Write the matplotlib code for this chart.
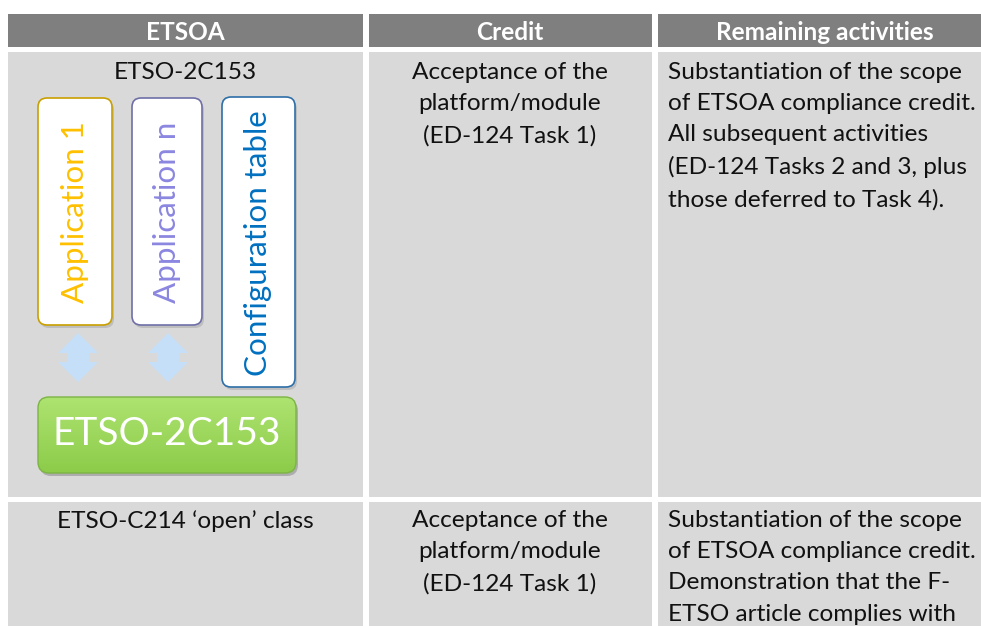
import matplotlib
matplotlib.use("Agg")
import numpy as np
import matplotlib.pyplot as plt
from matplotlib.patches import Rectangle, FancyBboxPatch, Polygon

plt.rcParams['font.family'] = ['Lato', 'DejaVu Sans']

# ---- table content ----
headers = ["ETSOA", "Credit", "Remaining activities"]
row1 = ["ETSO-2C153",
        "Acceptance of the\nplatform/module\n(ED-124 Task 1)",
        "Substantiation of the scope\nof ETSOA compliance credit.\nAll subsequent activities\n(ED-124 Tasks 2 and 3, plus\nthose deferred to Task 4)."]
row2 = ["ETSO-C214 \u2018open\u2019 class",
        "Acceptance of the\nplatform/module\n(ED-124 Task 1)",
        "Substantiation of the scope\nof ETSOA compliance credit.\nDemonstration that the F-\nETSO article complies with"]
diagram_apps = ["Application 1", "Application n", "Configuration table"]
diagram_base = "ETSO-2C153"

W, H = 981, 626
fig = plt.figure(figsize=(W / 100, H / 100), dpi=100)
ax = fig.add_axes([0, 0, 1, 1])
ax.set_xlim(0, W)
ax.set_ylim(H, 0)
ax.axis('off')

col_x = [(8, 363), (369, 652), (658, 981)]
row_y = [(14, 47), (52, 497), (502, 640)]
HEAD = '#7f7f7f'
CELL = '#d9d9d9'
TXT = '#111111'
FS = 17.6
LS = 1.60

for (x0, x1) in col_x:
    ax.add_patch(Rectangle((x0, row_y[0][0]), x1 - x0, row_y[0][1] - row_y[0][0], color=HEAD, lw=0))
    for (y0, y1) in row_y[1:]:
        ax.add_patch(Rectangle((x0, y0), x1 - x0, y1 - y0, color=CELL, lw=0))

head_cx = [185, 510, 825]
for cx, h in zip(head_cx, headers):
    ax.text(cx, 32, h, ha='center', va='center', color='white', fontsize=17.6, fontweight='bold')

for row, ytop in ((row1, 62), (row2, 510)):
    ax.text(185, ytop, row[0], ha='center', va='top', fontsize=FS, color=TXT, linespacing=LS)
    ax.text(510, ytop, row[1], ha='center', va='top', fontsize=FS, color=TXT, linespacing=LS)
    ax.text(668, ytop, row[2], ha='left', va='top', fontsize=FS, color=TXT, linespacing=LS)

# ---- diagram ----
boxes = [(38, 98, 74, 227, '#c9a000', '#ffc000', 212),
         (132, 98, 70, 227, '#6f6fa8', '#8b86e0', 212),
         (222, 97, 73, 290, '#2e6fa8', '#0070c0', 243)]
for (x, y, w, h, ec, tc, cy), label in zip(boxes, diagram_apps):
    ax.add_patch(FancyBboxPatch((x + 2, y + 3), w, h, boxstyle="round,pad=0,rounding_size=9",
                                fc='#a8a8a8', ec='none', alpha=0.55))
    ax.add_patch(FancyBboxPatch((x, y), w, h, boxstyle="round,pad=0,rounding_size=9",
                                fc='white', ec=ec, lw=1.2))
    ax.text(x + w / 2, cy, label, rotation=90, ha='center', va='center',
            fontsize=22.6, color=tc)

# double arrows
for cx in (78, 168):
    top, bot = 333, 382
    hw, sw = 20, 11
    pts = [(cx, top), (cx + hw, top + 20), (cx + sw, top + 20),
           (cx + sw, bot - 20), (cx + hw, bot - 20), (cx, bot), (cx - hw, bot - 20),
           (cx - sw, bot - 20), (cx - sw, top + 20), (cx - hw, top + 20)]
    ax.add_patch(Polygon(pts, closed=True, fc='#c6dff8', ec='none'))

# green base with soft vertical gradient
ax.add_patch(FancyBboxPatch((40, 400), 258, 76, boxstyle="round,pad=0,rounding_size=11",
                            fc='#8a8a8a', ec='none', alpha=0.55))
gbox = FancyBboxPatch((38, 397), 258, 76, boxstyle="round,pad=0,rounding_size=11",
                      fc='#92d050', ec='none')
ax.add_patch(gbox)
c_top = np.array([0.68, 0.89, 0.44])
c_bot = np.array([0.55, 0.80, 0.29])
t = np.linspace(0, 1, 64)[:, None, None]
grad = c_top * (1 - t) + c_bot * t
grad = np.repeat(grad, 2, axis=1)
im = ax.imshow(grad, extent=(38, 296, 473, 397), aspect='auto', zorder=2, interpolation='bilinear')
im.set_clip_path(gbox)
ax.add_patch(FancyBboxPatch((38, 397), 258, 76, boxstyle="round,pad=0,rounding_size=11",
                            fc='none', ec='#7db445', lw=1.0, zorder=3))
ax.text(167, 434, diagram_base, ha='center', va='center', fontsize=28, color='white', zorder=4)

ax.set_xlim(0, W)
ax.set_ylim(H, 0)
fig.savefig('out.png', dpi=100)
